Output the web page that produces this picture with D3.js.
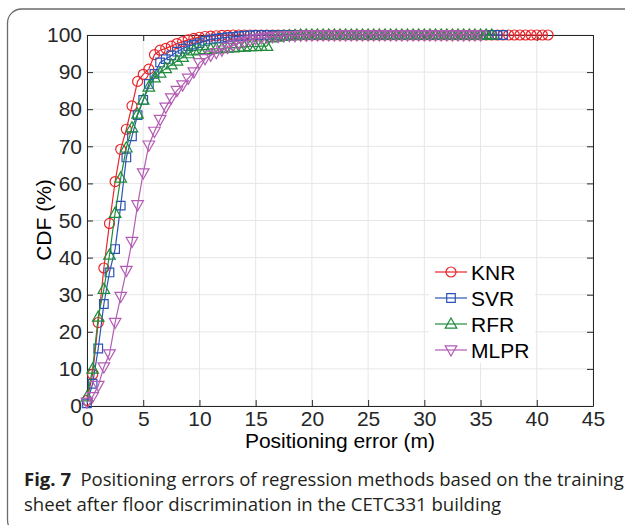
<!DOCTYPE html>
<html>
<head>
<meta charset="utf-8">
<script src="https://cdn.jsdelivr.net/npm/d3@7"></script>
<style>
  body { margin: 0; background: #fff; }
  svg { display: block; }
</style>
</head>
<body>
<div id="chart"></div>
<script>

// positioning error thresholds (m) where each CDF marker sits
var errorSteps = [0,0.5,1,1.5,2,2.5,3,3.5,4,4.5,5,5.5,6,6.5,7,7.5,8,8.5,9,9.5,
  10,10.5,11,11.5,12,12.5,13,13.5,14,14.5,15,15.5,16,16.5,17,17.5,18,18.5,19,19.5,
  20,20.5,21,21.5,22,22.5,23,23.5,24,24.5,25,25.5,26,26.5,27,27.5,28,28.5,29,29.5,
  30,30.5,31,31.5,32,32.5,33,33.5,34,34.5,35,35.5,36,36.5,37,37.5,38,38.5,39,39.5,
  40,40.5,41];

// CDF values (%)
var knr = [1.5,8.5,22.5,37.2,49.2,60.5,69.2,74.6,80.9,87.5,89.4,90.8,94.7,95.9,96.4,97,97.7,98.2,98.7,99.1,
  99.4,99.6,99.7,99.8,99.9,99.9,100,100,
  100,100,100,100,100,100,100,100,100,100,
  100,100,100,100,100,100,100,100,100,100,
  100,100,100,100,100,100,100,100,100,100,
  100,100,100,100,100,100,100,100,100,100,
  100,100,100,100,100,100,100,100,100,100,
  100,100,100,100,100];

var svr = [0.7,6,15.5,27.5,36,42.3,54,67,72.7,78.4,82.5,86.8,89.5,92.6,93.5,94.5,95.5,96.3,97,97.4,
  97.8,98.4,98.8,99,99.2,99.4,99.5,99.7,99.8,99.9,
  100,100,100,100,100,100,100,100,100,100,
  100,100,100,100,100,100,100,100,100,100,
  100,100,100,100,100,100,100,100,100,100,
  100,100,100,100,100,100,100,100,100,100,
  100,100,100,100,100];

var rfr = [2.5,10,24,31.5,40.7,52,61.5,69.6,75,78.7,82.5,86,88.5,89.8,91,92,93,94,95,95.8,
  96,96.1,96.2,96.3,96.4,96.5,96.6,96.7,96.8,96.9,96.9,97,97,99.3,99.5,99.7,99.8,99.9,
  100,100,100,100,100,100,100,100,100,100,
  100,100,100,100,100,100,100,100,100,100,
  100,100,100,100,100,100,100,100,100,100,
  100,100,100,100,100];

var mlpr = [1,2.5,5.5,10.5,14,22.5,29.5,36.5,44.3,54.2,62.8,70.3,74,77.2,80.5,83,85,86.5,88.3,90,
  92.5,93.6,94.5,95.2,95.9,96.6,97.2,97.8,98.2,98.6,99,99.2,99.4,99.5,99.6,99.7,99.8,99.8,99.9,99.9,
  100,100,100,100,100,100,100,100,100,100,
  100,100,100,100,100,100,100,100,100,100,
  100,100,100,100,100,100,100,100,100,100,
  100];

var seriesNames = ["KNR", "SVR", "RFR", "MLPR"];
var seriesValues = [knr, svr, rfr, mlpr];
var seriesColors = ["#e8262b", "#2b55b5", "#1f8c3b", "#b35cb3"];
var seriesMarkers = ["circle", "square", "triangleUp", "triangleDown"];

var xTicks = [0,5,10,15,20,25,30,35,40,45];
var yTicks = [0,10,20,30,40,50,60,70,80,90,100];

var captionBold = "Fig. 7";
var captionLine1 = "Positioning errors of regression methods based on the training";
var captionLine2 = "sheet after floor discrimination in the CETC331 building";

var W = 625, H = 525;
var plot = {left: 87, right: 593, top: 35, bottom: 406};
var axisColor = "#262626";
var font = "'Liberation Sans', Arial, Helvetica, sans-serif";

var svg = d3.select("#chart").append("svg")
    .attr("width", W)
    .attr("height", H);

// figure frame (rounded, runs off the right and bottom)
svg.append("rect")
    .attr("x", 7.5).attr("y", 9)
    .attr("width", 660).attr("height", 525)
    .attr("rx", 14).attr("ry", 14)
    .style("fill", "none")
    .style("stroke", "#6b6b6b")
    .style("stroke-width", 1.3);

var x = d3.scaleLinear().domain([0, 45]).range([plot.left, plot.right]);
var y = d3.scaleLinear().domain([0, 100]).range([plot.bottom, plot.top]);

// grid
var grid = svg.append("g");
grid.selectAll(".gx").data(xTicks).enter().append("line")
    .attr("x1", function(d){ return x(d); }).attr("x2", function(d){ return x(d); })
    .attr("y1", plot.top).attr("y2", plot.bottom)
    .style("stroke", "#e6e6e6").style("stroke-width", 1);
grid.selectAll(".gy").data(yTicks).enter().append("line")
    .attr("y1", function(d){ return y(d); }).attr("y2", function(d){ return y(d); })
    .attr("x1", plot.left).attr("x2", plot.right)
    .style("stroke", "#e6e6e6").style("stroke-width", 1);

// axes (MATLAB style: inward ticks on all four sides)
function styleAxis(g) {
  g.select(".domain").style("stroke", axisColor).style("stroke-width", 1);
  g.selectAll(".tick line").style("stroke", axisColor);
  g.selectAll("text").style("font-family", font).style("font-size", "21px").style("fill", axisColor);
}

svg.append("g")
    .attr("transform", "translate(0," + plot.bottom + ")")
    .call(d3.axisBottom(x).tickValues(xTicks).tickSizeInner(-6).tickSizeOuter(0).tickPadding(5))
    .call(styleAxis);
svg.append("g")
    .attr("transform", "translate(" + plot.left + ",0)")
    .call(d3.axisLeft(y).tickValues(yTicks).tickSizeInner(-6).tickSizeOuter(0).tickPadding(5))
    .call(styleAxis);
svg.append("g")
    .attr("transform", "translate(0," + plot.top + ")")
    .call(d3.axisTop(x).tickValues(xTicks).tickSizeInner(-6).tickSizeOuter(0).tickFormat(""))
    .call(styleAxis);
svg.append("g")
    .attr("transform", "translate(" + plot.right + ",0)")
    .call(d3.axisRight(y).tickValues(yTicks).tickSizeInner(-6).tickSizeOuter(0).tickFormat(""))
    .call(styleAxis);

// marker shapes
function markerPath(type) {
  if (type === "circle") return d3.symbol().type(d3.symbolCircle).size(Math.PI * 5 * 5)();
  if (type === "square") return "M-4.3,-4.3H4.3V4.3H-4.3Z";
  if (type === "triangleUp") return "M0,-6L5.8,4.2H-5.8Z";
  return "M0,6L5.8,-4.2H-5.8Z";
}

var line = d3.line()
    .x(function(d){ return x(d[0]); })
    .y(function(d){ return y(d[1]); });

seriesValues.forEach(function(vals, i) {
  var pts = vals.map(function(v, k){ return [errorSteps[k], v]; });
  var g = svg.append("g").attr("class", "series");
  g.append("path")
      .datum(pts)
      .attr("d", line)
      .style("fill", "none")
      .style("stroke", seriesColors[i])
      .style("stroke-width", 1.2);
  g.selectAll(".m").data(pts).enter().append("path")
      .attr("class", "m")
      .attr("transform", function(d){ return "translate(" + x(d[0]) + "," + y(d[1]) + ")"; })
      .attr("d", markerPath(seriesMarkers[i]))
      .style("fill", "none")
      .style("stroke", seriesColors[i])
      .style("stroke-width", 1.2);
});

// legend
var legend = svg.append("g");
legend.append("rect")
    .attr("x", 429).attr("y", 259).attr("width", 106).attr("height", 104)
    .style("fill", "#fff");
seriesNames.forEach(function(name, i) {
  var ly = 272 + i * 26;
  legend.append("line")
      .attr("x1", 435).attr("x2", 467).attr("y1", ly).attr("y2", ly)
      .style("stroke", seriesColors[i]).style("stroke-width", 1.2);
  legend.append("path")
      .attr("transform", "translate(451," + ly + ")")
      .attr("d", markerPath(seriesMarkers[i]))
      .style("fill", "none")
      .style("stroke", seriesColors[i]).style("stroke-width", 1.2);
  legend.append("text")
      .attr("x", 471).attr("y", ly)
      .attr("dy", "0.36em")
      .style("font-family", font).style("font-size", "21px").style("fill", "#000")
      .text(name);
});

// axis labels
svg.append("text")
    .attr("x", (plot.left + plot.right) / 2).attr("y", 448)
    .style("text-anchor", "middle")
    .style("font-family", font).style("font-size", "21px").style("fill", "#000")
    .text("Positioning error (m)");
svg.append("text")
    .attr("transform", "translate(51,220) rotate(-90)")
    .style("text-anchor", "middle")
    .style("font-family", font).style("font-size", "21px").style("fill", "#000")
    .text("CDF (%)");

// caption
var capFont = "'Open Sans', 'Noto Sans', sans-serif";
var cap1 = svg.append("text")
    .style("font-family", capFont).style("font-size", "18px").style("fill", "#231f20");
cap1.append("tspan").style("font-weight", "bold").text(captionBold);
cap1.append("tspan").attr("dx", 9).text(captionLine1);
var cap2 = svg.append("text")
    .style("font-family", capFont).style("font-size", "18px").style("fill", "#231f20")
    .text(captionLine2);

var w1 = cap1.node().getComputedTextLength();
var sx = 591 / w1;
cap1.attr("transform", "translate(24,486) scale(" + sx + ",1)");
cap2.attr("transform", "translate(24,511) scale(" + sx + ",1)");

</script>
</body>
</html>
